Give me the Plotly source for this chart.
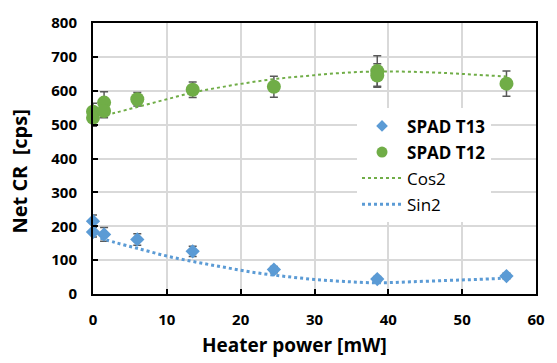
import plotly.graph_objects as go

# T12 (green circles)
t12_x = [0, 0, 1.5, 1.5, 6, 13.5, 24.5, 38.5, 38.5, 56]
t12_y = [538, 520, 565, 540, 575, 603, 612, 658, 645, 621]
t12_err = [25, 25, 32, 20, 20, 23, 31, 45, 35, 37]

# T13 (blue diamonds)
t13_x = [0, 0, 1.5, 6, 13.5, 24.5, 38.5, 56]
t13_y = [215, 183, 176, 161, 126, 72, 44, 53]
t13_err = [18, 15, 20, 17, 15, 9, 8, 8]

# fitted curves
fit_x = [1, 3, 6, 10, 14, 18, 22, 26, 30, 34, 38.5, 43, 48, 52, 56]
cos2_y = [525, 535, 552, 575, 597, 613, 627, 638, 646, 653, 657, 656, 652, 647, 642]
sin2_y = [165, 152, 135, 112, 94, 78, 63, 52, 43, 37, 33, 36, 40, 43, 47]

GREEN = "#70ad47"
BLUE = "#5b9bd5"
ERR = "#595959"

fig = go.Figure()
fig.add_trace(go.Scatter(
    x=t13_x, y=t13_y, mode="markers", showlegend=False,
    marker=dict(symbol="diamond", size=11, color=BLUE),
    error_y=dict(type="data", array=t13_err, color=ERR, thickness=1.5, width=4),
    cliponaxis=False))
fig.add_trace(go.Scatter(
    x=t12_x, y=t12_y, mode="markers", showlegend=False,
    marker=dict(symbol="circle", size=14, color=GREEN),
    error_y=dict(type="data", array=t12_err, color=ERR, thickness=1.5, width=4),
    cliponaxis=False))
fig.add_trace(go.Scatter(
    x=fit_x, y=cos2_y, mode="lines", showlegend=False,
    line=dict(color=GREEN, width=2, dash="dot", shape="spline")))
fig.add_trace(go.Scatter(
    x=fit_x, y=sin2_y, mode="lines", showlegend=False,
    line=dict(color=BLUE, width=3, dash="dot", shape="spline")))

# legend entries (same styles, smaller legend symbols)
fig.add_trace(go.Scatter(x=[None], y=[None], mode="markers", name="<b>SPAD T13</b>", legendgroup="a",
                         marker=dict(symbol="diamond", size=9, color=BLUE)))
fig.add_trace(go.Scatter(x=[None], y=[None], mode="markers", name="<b>SPAD T12</b>", legendgroup="b",
                         marker=dict(symbol="circle", size=11, color=GREEN)))
fig.add_trace(go.Scatter(x=[None], y=[None], mode="lines", name="Cos2", legendgroup="c",
                         line=dict(color=GREEN, width=2, dash="dot")))
fig.add_trace(go.Scatter(x=[None], y=[None], mode="lines", name="Sin2", legendgroup="d",
                         line=dict(color=BLUE, width=3, dash="dot")))

font = "Open Sans"
axis_common = dict(
    showgrid=True, gridcolor="#d9d9d9", gridwidth=1.5,
    showline=True, linecolor="black", linewidth=2, mirror=True,
    ticks="inside", ticklen=5, tickcolor="black", tickwidth=2,
    zeroline=False,
    tickfont=dict(family=font, size=15, color="black", weight="bold"),
)
fig.update_xaxes(range=[0, 60], dtick=10, ticklabelstandoff=11, **axis_common)
fig.update_yaxes(range=[0, 800], dtick=100, ticklabelstandoff=11, **axis_common)

fig.update_layout(
    width=557, height=363,
    margin=dict(l=93, r=12, t=14, b=69),
    plot_bgcolor="white", paper_bgcolor="white",
    legend=dict(x=0.596, y=0.685, xanchor="left", yanchor="top",
                bgcolor="white", font=dict(family=font, size=17, color="black"),
                tracegroupgap=1, itemwidth=40),
    shapes=[dict(type="rect", xref="paper", yref="paper",
                 x0=(342 - 93) / 452, x1=(507 - 93) / 452,
                 y0=(294 - 222) / 280, y1=(294 - 110) / 280,
                 fillcolor="white", line=dict(width=0), layer="between")],
    annotations=[
        dict(text="<b>Heater power [mW]</b>", xref="paper", yref="paper",
             x=(299 - 93) / 452, y=-(347 - 294) / 280, xanchor="center", yanchor="middle",
             showarrow=False, font=dict(family=font, size=19, color="black")),
        dict(text="<b>Net CR  [cps]</b>", xref="paper", yref="paper",
             x=-(93 - 18) / 452, y=(294 - 167) / 280, xanchor="center", yanchor="middle",
             textangle=-90, showarrow=False, font=dict(family=font, size=20, color="black")),
    ],
)
fig.write_html("out.html")
